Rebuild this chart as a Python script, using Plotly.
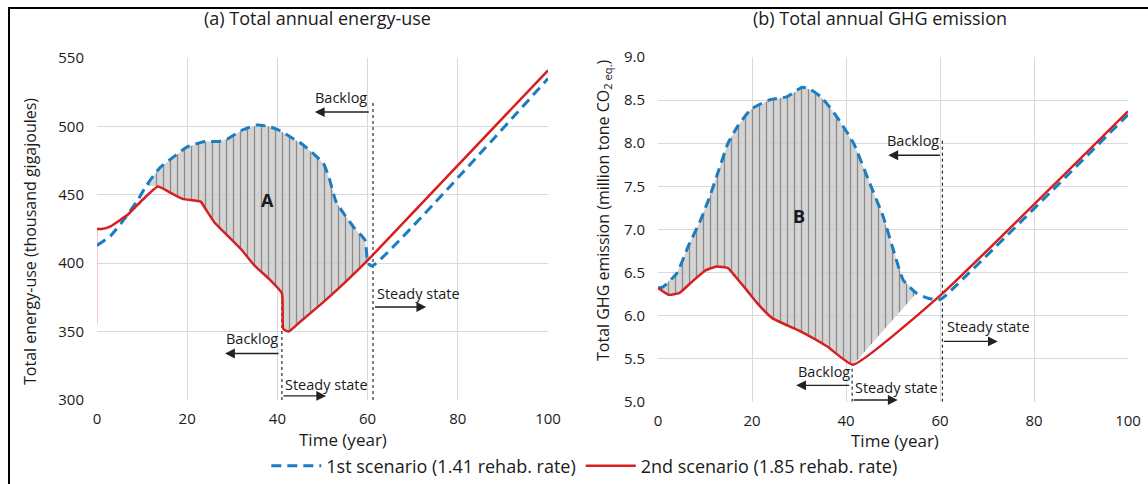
import plotly.graph_objects as go

# ---------------- data ----------------
# (a) Total annual energy-use (thousand GJ)
a_s1_x = [0, 3, 6, 9, 11, 14, 17.5, 20, 24, 27, 29, 32, 35.5, 38, 40.5, 43, 45.5, 48, 50.2, 51.5, 53, 55, 57, 59.4, 60.1, 61, 100]
a_s1_y = [413, 420, 432, 446, 457, 470, 479, 485, 489, 489, 491, 497, 501, 500, 497, 492, 487, 480, 473, 462, 445, 435, 426, 417, 400, 398, 535]
a_s2_x = [0, 1, 3, 7, 10, 13.5, 16, 19, 23, 24, 26, 29, 32, 35, 38, 41, 41.3, 42.5, 45, 50, 55, 60, 100]
a_s2_y = [425, 425, 427, 436, 446, 456, 452, 447, 445, 440, 430, 420, 410, 398, 389, 378, 352, 350, 357, 371, 386, 402, 541]
a_s2_start_x = [0, 0]
a_s2_start_y = [355, 425]
a_fill_range = (11, 60.1)   # x-range of shaded area A

# (b) Total annual GHG emission (million tonne CO2 eq.)
b_s1_x = [0, 1, 4, 6.4, 9, 11, 13, 14.9, 17, 19.7, 23.6, 27.5, 30.7, 32.5, 34.6, 36.5, 38.5, 41.6, 44.8, 47.9, 50.3, 52.2, 55, 57.5, 59.7, 60.5, 100]
b_s1_y = [6.32, 6.33, 6.49, 6.8, 7.1, 7.38, 7.7, 8.0, 8.2, 8.39, 8.5, 8.54, 8.65, 8.62, 8.54, 8.42, 8.27, 8.0, 7.57, 7.15, 6.72, 6.41, 6.26, 6.2, 6.18, 6.2, 8.33]
b_s2_x = [0, 2.3, 4.5, 7, 10, 12.5, 14.9, 16.5, 18.8, 21, 24.3, 29.8, 36, 41.5, 60.2, 100]
b_s2_y = [6.32, 6.24, 6.26, 6.38, 6.52, 6.57, 6.55, 6.45, 6.3, 6.15, 5.97, 5.83, 5.64, 5.43, 6.24, 8.37]
b_fill_s1_max = 55
b_fill_s2_max = 48.5

x_ticks = [0, 20, 40, 60, 80, 100]
a_y_ticks = [300, 350, 400, 450, 500, 550]
b_y_ticks = [5.0, 5.5, 6.0, 6.5, 7.0, 7.5, 8.0, 8.5, 9.0]
b_y_ticklabels = ["5.0", "5.5", "6.0", "6.5", "7.0", "7.5", "8.0", "8.5", "9.0"]

# vertical dotted markers: (x, y_bottom, y_top)
a_markers = [(41, 300, 378), (61.2, 300, 518)]
b_markers = [(41.3, 5.0, 5.43), (60.5, 5.0, 8.05)]

# annotation texts: (text, x, y)
a_labels = [("Backlog", 54.1, 521), ("Backlog", 34.4, 345), ("Steady state", 50.8, 311.5), ("Steady state", 71.3, 378)]
b_labels = [("Backlog", 54.2, 8.03), ("Backlog", 35.4, 5.35), ("Steady state", 50.7, 5.17), ("Steady state", 70.3, 5.87)]
# arrows: (x_head, y, x_tail)
a_arrows = [(48.3, 510.5, 60.6), (28.4, 334, 40.6), (50.8, 303, 41), (73, 368, 61.3)]
b_arrows = [(49, 7.86, 60.3), (29.4, 5.19, 41), (51, 5.02, 41.3), (72.3, 5.70, 60.5)]

BLUE = "#1a7dc0"
RED = "#d81e1e"
FONT = "Open Sans"
TXT = "#1a1a1a"

fig = go.Figure()

def fill_polygon(x1, y1, lo1, hi1, x2, y2, lo2, hi2):
    px = [x for x in x1 if lo1 <= x <= hi1]
    py = [y for x, y in zip(x1, y1) if lo1 <= x <= hi1]
    qx = [x for x in x2 if lo2 <= x <= hi2]
    qy = [y for x, y in zip(x2, y2) if lo2 <= x <= hi2]
    return px + qx[::-1] + [px[0]], py + qy[::-1] + [py[0]]

pattern = dict(shape="|", fgcolor="#8a8a8a", bgcolor="rgba(205,205,205,0.85)", size=7, solidity=0.18)

# shaded A
fx, fy = fill_polygon(a_s1_x, a_s1_y, a_fill_range[0], a_fill_range[1], a_s2_x, a_s2_y, a_fill_range[0], a_fill_range[1])
fig.add_trace(go.Scatter(x=fx, y=fy, fill="toself", mode="none", fillpattern=pattern,
                         fillcolor="rgba(205,205,205,0.85)", showlegend=False, hoverinfo="skip", xaxis="x", yaxis="y"))
# shaded B
fx, fy = fill_polygon(b_s1_x, b_s1_y, 0, b_fill_s1_max, b_s2_x, b_s2_y, 0, b_fill_s2_max)
fig.add_trace(go.Scatter(x=fx, y=fy, fill="toself", mode="none", fillpattern=pattern,
                         fillcolor="rgba(205,205,205,0.85)", showlegend=False, hoverinfo="skip", xaxis="x2", yaxis="y2"))

# dotted markers
for (mx, y0, y1) in a_markers:
    fig.add_trace(go.Scatter(x=[mx, mx], y=[y0, y1], mode="lines", line=dict(color="black", width=1, dash="dot"),
                             showlegend=False, hoverinfo="skip", xaxis="x", yaxis="y"))
for (mx, y0, y1) in b_markers:
    fig.add_trace(go.Scatter(x=[mx, mx], y=[y0, y1], mode="lines", line=dict(color="black", width=1, dash="dot"),
                             showlegend=False, hoverinfo="skip", xaxis="x2", yaxis="y2"))

# series
fig.add_trace(go.Scatter(x=a_s2_start_x, y=a_s2_start_y, mode="lines", line=dict(color="rgba(216,30,30,0.3)", width=1.5),
                         showlegend=False, hoverinfo="skip", xaxis="x", yaxis="y"))
fig.add_trace(go.Scatter(x=a_s1_x, y=a_s1_y, mode="lines", name="1st scenario (1.41 rehab. rate)",
                         line=dict(color=BLUE, width=3, dash="10px,6px", shape="spline", smoothing=0.5),
                         legendrank=1, xaxis="x", yaxis="y"))
fig.add_trace(go.Scatter(x=a_s2_x, y=a_s2_y, mode="lines", name="2nd scenario (1.85 rehab. rate)",
                         line=dict(color=RED, width=2.5, shape="spline", smoothing=0.4),
                         legendrank=2, xaxis="x", yaxis="y"))
fig.add_trace(go.Scatter(x=b_s1_x, y=b_s1_y, mode="lines", showlegend=False,
                         line=dict(color=BLUE, width=3, dash="10px,6px", shape="spline", smoothing=0.5),
                         xaxis="x2", yaxis="y2"))
fig.add_trace(go.Scatter(x=b_s2_x, y=b_s2_y, mode="lines", showlegend=False,
                         line=dict(color=RED, width=2.5, shape="spline", smoothing=0.4),
                         xaxis="x2", yaxis="y2"))

annotations = []
for (t, x, y) in a_labels:
    annotations.append(dict(text=t, x=x, y=y, xref="x", yref="y", showarrow=False, font=dict(size=14.5, color=TXT, family=FONT)))
for (t, x, y) in b_labels:
    annotations.append(dict(text=t, x=x, y=y, xref="x2", yref="y2", showarrow=False, font=dict(size=14.5, color=TXT, family=FONT)))
for (xh, y, xt) in a_arrows:
    annotations.append(dict(text="", x=xh, y=y, ax=xt, ay=y, xref="x", yref="y", axref="x", ayref="y",
                            showarrow=True, arrowhead=2, arrowsize=1.4, arrowwidth=1.4, arrowcolor="#222"))
for (xh, y, xt) in b_arrows:
    annotations.append(dict(text="", x=xh, y=y, ax=xt, ay=y, xref="x2", yref="y2", axref="x2", ayref="y2",
                            showarrow=True, arrowhead=2, arrowsize=1.4, arrowwidth=1.4, arrowcolor="#222"))
annotations.append(dict(text="<b>A</b>", x=37.9, y=446, xref="x", yref="y", showarrow=False, font=dict(size=18, color=TXT, family=FONT)))
annotations.append(dict(text="<b>B</b>", x=29.9, y=7.15, xref="x2", yref="y2", showarrow=False, font=dict(size=18, color=TXT, family=FONT)))
# titles
annotations.append(dict(text="(a) Total annual energy-use", x=317/1148, y=1-18/484, xref="paper", yref="paper",
                        xanchor="center", yanchor="middle", showarrow=False, font=dict(size=18, color=TXT, family=FONT)))
annotations.append(dict(text="(b) Total annual GHG emission", x=880/1148, y=1-18/484, xref="paper", yref="paper",
                        xanchor="center", yanchor="middle", showarrow=False, font=dict(size=18, color=TXT, family=FONT)))
annotations.append(dict(text="Time (year)", x=343/1148, y=1-439/484, xref="paper", yref="paper",
                        xanchor="center", yanchor="middle", showarrow=False, font=dict(size=17, color=TXT, family=FONT)))
annotations.append(dict(text="Time (year)", x=895/1148, y=1-440/484, xref="paper", yref="paper",
                        xanchor="center", yanchor="middle", showarrow=False, font=dict(size=17, color=TXT, family=FONT)))
annotations.append(dict(text="Total energy-use (thousand gigajoules)", x=30/1148, y=1-242/484, xref="paper", yref="paper",
                        xanchor="center", yanchor="middle", textangle=-90, showarrow=False, font=dict(size=16, color=TXT, family=FONT)))
annotations.append(dict(text="Total GHG emission (million tone CO<sub>2 eq.</sub>)", x=603/1148, y=1-210/484, xref="paper", yref="paper",
                        xanchor="center", yanchor="middle", textangle=-90, showarrow=False, font=dict(size=16, color=TXT, family=FONT)))

axis_common = dict(showgrid=True, gridcolor="#d9d9d9", gridwidth=1, zeroline=False, ticks="",
                   tickfont=dict(size=15, color=TXT, family=FONT), showline=False, automargin=False)

fig.update_layout(
    template=None,
    width=1148, height=484,
    margin=dict(l=0, r=0, t=0, b=0, pad=0, autoexpand=False),
    paper_bgcolor="white", plot_bgcolor="white",
    font=dict(family=FONT, color=TXT),
    xaxis=dict(domain=[97/1148, 548/1148], range=[0, 100], tickvals=x_ticks, anchor="y",
               ticklabelstandoff=8, **axis_common),
    yaxis=dict(domain=[(484-400)/484, (484-58)/484], range=[300, 550], tickvals=a_y_ticks, anchor="x",
               ticklabelstandoff=12, **axis_common),
    xaxis2=dict(domain=[658/1148, 1128/1148], range=[0, 100], tickvals=x_ticks, anchor="y2",
                ticklabelstandoff=8, **axis_common),
    yaxis2=dict(domain=[(484-401.7)/484, (484-57)/484], range=[5.0, 9.0], tickvals=b_y_ticks,
                ticktext=b_y_ticklabels, anchor="x2", ticklabelstandoff=12, **axis_common),
    legend=dict(orientation="h", x=0.509, xanchor="center", y=1-466/484, yanchor="middle",
                font=dict(size=18, color=TXT, family=FONT), bgcolor="rgba(0,0,0,0)", itemwidth=50,
                tracegroupgap=0),
    annotations=annotations,
    shapes=[dict(type="rect", xref="paper", yref="paper", x0=9/1148, x1=1.02, y0=-0.02, y1=1-8/484,
                 line=dict(color="black", width=2), layer="above")],
)

fig.write_html("out.html")
